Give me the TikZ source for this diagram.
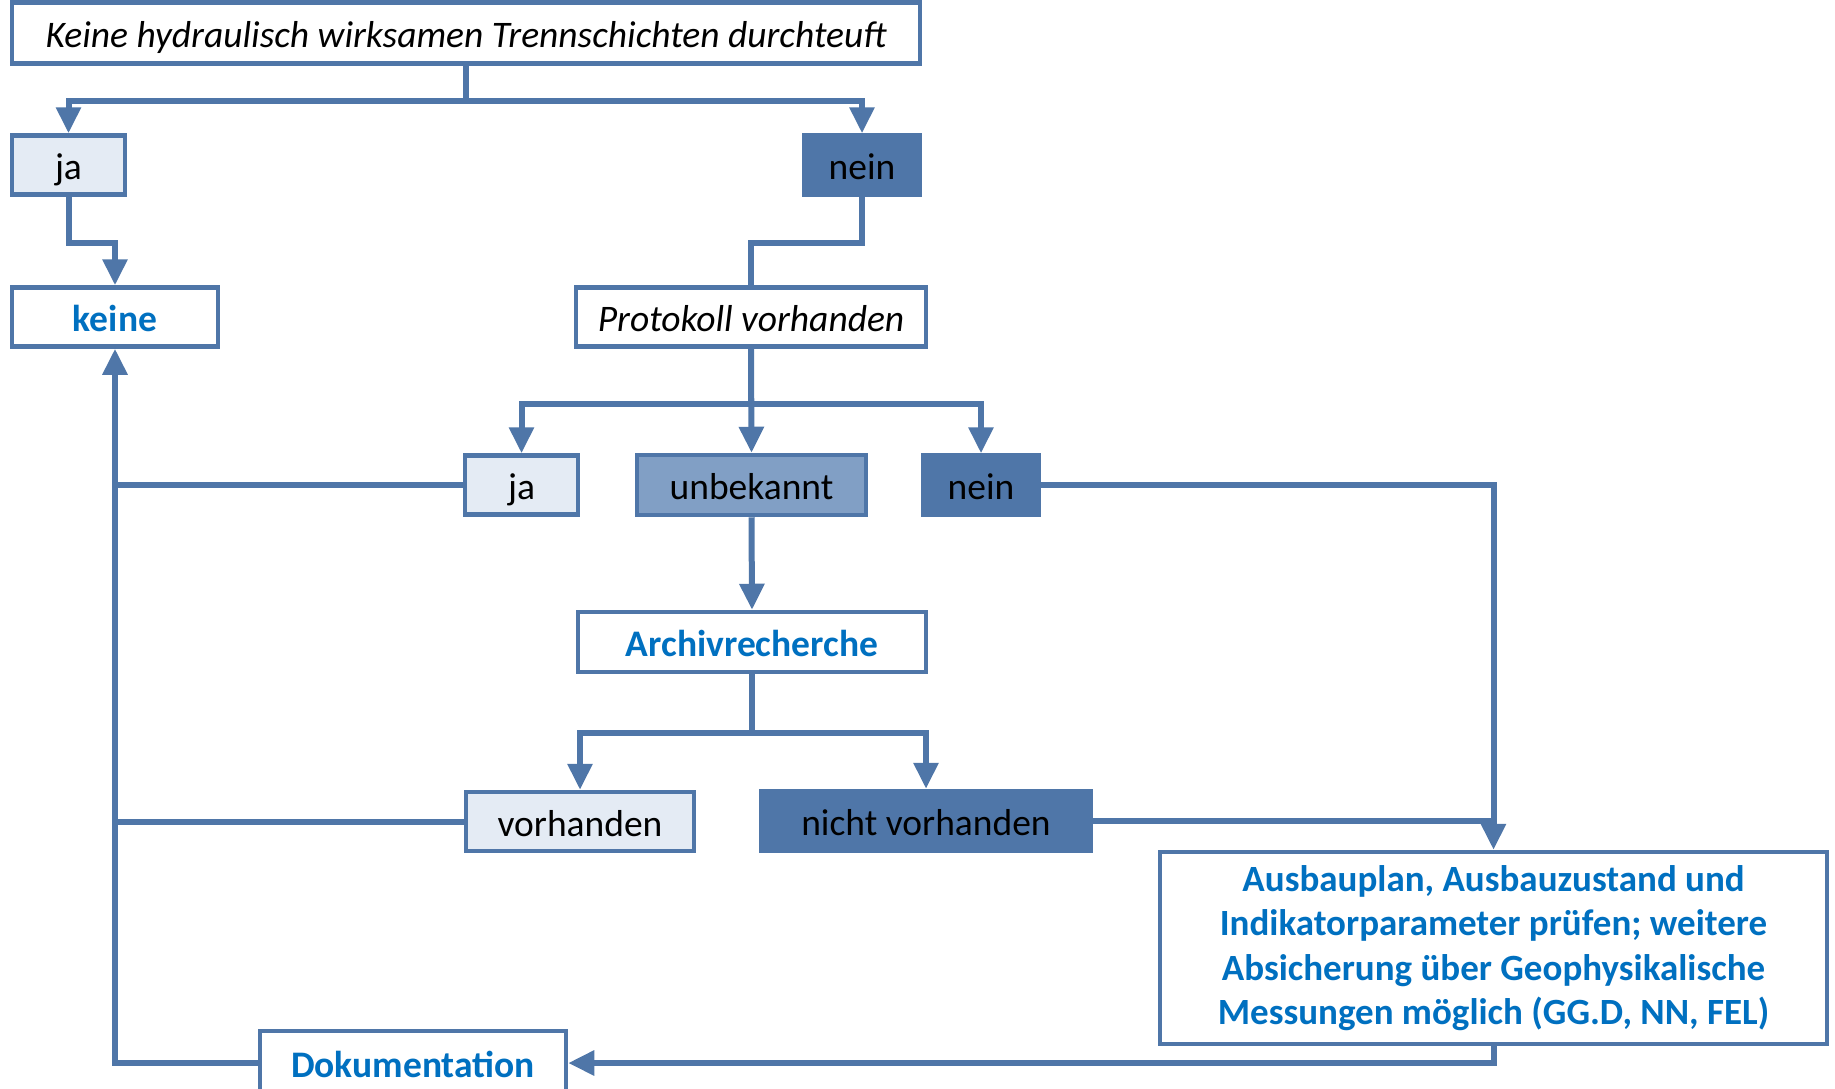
\documentclass[tikz,border=0pt]{standalone}
\usepackage{fontspec}
\setmainfont{Carlito}
\usepackage{tikz}
\usetikzlibrary{shapes,arrows,arrows.meta}
\usepackage{xcolor}
\definecolor{linie}{HTML}{4F76A8}
\definecolor{hell}{HTML}{E4EBF4}
\definecolor{mittel}{HTML}{819FC5}
\definecolor{dunkel}{HTML}{4F76A8}
\definecolor{textblau}{HTML}{0070C0}

\tikzset{
	rahmen/.style={draw=linie, line width=4.5pt, fill=white, inner sep=0pt, minimum height=59pt, font=\fontsize{37.5}{45}\selectfont},
	kasten/.style={rahmen, text height=32pt, text depth=3pt},
	frage/.style={kasten, font=\fontsize{37.5}{45}\selectfont\itshape},
	ergebnis/.style={kasten, text=textblau, font=\fontsize{37.5}{45}\selectfont\bfseries},
	janode/.style={kasten, fill=hell},
	unbnode/.style={kasten, fill=mittel},
	neinnode/.style={kasten, fill=dunkel, draw=dunkel},
	verb/.style={draw=linie, line width=6pt},
	pfeil/.style={verb, -{Triangle[width=24pt,length=26pt]}}
}

\begin{document}
\begin{tikzpicture}[x=1pt,y=-1pt]
		\useasboundingbox (0,0) rectangle (1835,1088);
		% Knoten
		\node[frage, minimum width=908pt, minimum height=61pt] (top) at (466,33) {Keine hydraulisch wirksamen Trennschichten durchteuft};
		\node[janode, minimum width=113pt] (ja1) at (68.5,165) {ja};
		\node[neinnode, minimum width=116pt] (nein1) at (862,165) {nein};
		\node[ergebnis, minimum width=206pt] (keine) at (115,317) {keine};
		\node[frage, minimum width=350pt] (prot) at (751,317) {Protokoll vorhanden};
		\node[janode, minimum width=113pt] (ja2) at (521.5,485) {ja};
		\node[unbnode, minimum width=229pt, minimum height=60pt] (unb) at (751.5,485) {unbekannt};
		\node[neinnode, minimum width=116pt] (nein2) at (981,485) {nein};
		\node[ergebnis, minimum width=348pt, minimum height=60pt] (archiv) at (752,642) {Archivrecherche};
		\node[janode, minimum width=228pt] (vorh) at (580,821.5) {vorhanden};
		\node[neinnode, minimum width=330pt, minimum height=60pt] (nvorh) at (926,821) {nicht vorhanden};
		\node[rahmen, text=textblau, font=\fontsize{37}{44.5}\selectfont\bfseries, minimum width=667pt, minimum height=192pt, align=center] (ausbau) at (1493.5,948) {Ausbauplan, Ausbauzustand und\\Indikatorparameter prüfen; weitere\\Absicherung über Geophysikalische\\Messungen möglich (GG.D, NN, FEL)};
		\node[ergebnis, minimum width=306pt, minimum height=64pt] (doku) at (413,1063) {Dokumentation};
		\coordinate (zulauf) at (466,-20);

		% Verbindungen
		\draw[verb] (zulauf) -- (top.north);
		\draw[pfeil] (top.south) -- ++(0,35) -| (ja1.north);
		\draw[pfeil] (top.south) -- ++(0,35) -| (nein1.north);
		\draw[pfeil] (ja1.south) -- ++(0,46) -| (keine.north);
		\draw[verb] (nein1.south) -- ++(0,46) -| (prot.north);
		\draw[pfeil] (prot.south) -- ++(0,55) -| (ja2.north);
		\draw[pfeil] (prot.south) -- ++(0,55) -| (nein2.north);
		\draw[pfeil] (prot.south) -- (unb.north);
		\draw[pfeil] (unb.south) -- (archiv.north);
		\draw[pfeil] (archiv.south) -- ++(0,59) -| (vorh.north);
		\draw[pfeil] (archiv.south) -- ++(0,59) -| (nvorh.north);
		\draw[pfeil] (nein2.east) -| (ausbau.north);
		\draw[verb] (nvorh.east) -- (ausbau.north |- nvorh.east);
		\draw[pfeil] (ausbau.south) |- (doku.east);
		\draw[pfeil] (doku.west) -| (keine.south);
		\draw[verb] (ja2.west) -- (keine.south |- ja2.west);
		\draw[verb] (vorh.west) -- (keine.south |- vorh.west);
\end{tikzpicture}
\end{document}
